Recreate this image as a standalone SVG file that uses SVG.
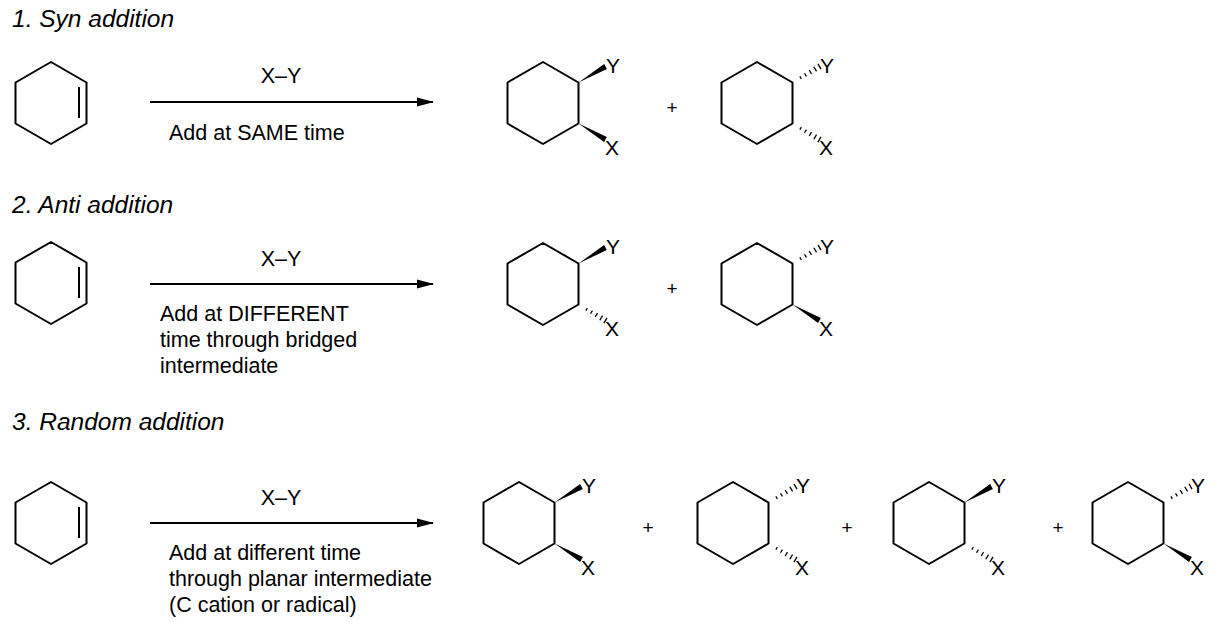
<svg xmlns="http://www.w3.org/2000/svg" xmlns:xlink="http://www.w3.org/1999/xlink" width="1225" height="622" viewBox="0 0 1225 622">
<style>
text{font-family:"Liberation Sans",Arial,sans-serif;fill:#000}
.t{font-size:24.5px;font-style:italic}
.c{font-size:21.5px}
.l{font-size:21px}
.p{font-size:19px}
.b{fill:none;stroke:#000;stroke-width:2;stroke-linejoin:round}
.h{stroke:#000;stroke-width:1.3}
.ar{stroke:#000;stroke-width:2;fill:none}
</style>
<defs>
<marker id="ah" markerWidth="18" markerHeight="10" refX="16" refY="5" orient="auto" markerUnits="userSpaceOnUse"><path d="M0,0.5 L17,5 L0,9.5 Z" fill="#000"/></marker>
<path id="hex" class="b" d="M0,-41 L35.5,-20.5 L35.5,20.5 L0,41 L-35.5,20.5 L-35.5,-20.5 Z"/>
<g id="sm"><use xlink:href="#hex"/><line class="b" x1="28" y1="-16" x2="28" y2="15"/></g>
<polygon id="wu" points="0,0 28.4,-13.6 25.6,-18.4" fill="#000"/>
<g id="hu" class="h"><line x1="7.36" y1="-6.06" x2="8.84" y2="-3.54"/><line x1="12.01" y1="-9.28" x2="13.91" y2="-6.08"/><line x1="16.67" y1="-12.5" x2="18.97" y2="-8.62"/><line x1="21.33" y1="-15.72" x2="24.03" y2="-11.16"/><line x1="25.47" y1="-18.58" x2="28.53" y2="-13.42"/></g>
</defs>

<text class="t" x="12" y="27">1. Syn addition</text>
<text class="t" x="12" y="213">2. Anti addition</text>
<text class="t" x="12" y="430">3. Random addition</text>

<g id="connectors">
<line class="ar" x1="150" y1="102" x2="433" y2="102" marker-end="url(#ah)"/>
<line class="ar" x1="150" y1="284" x2="433" y2="284" marker-end="url(#ah)"/>
<line class="ar" x1="150" y1="523" x2="433" y2="523" marker-end="url(#ah)"/>
</g>

<g id="labels">
<text class="c" x="281" y="83" text-anchor="middle">X–Y</text>
<text class="c" x="169" y="140">Add at SAME time</text>
<text class="c" x="281" y="266" text-anchor="middle">X–Y</text>
<text class="c" x="160" y="321">Add at DIFFERENT</text>
<text class="c" x="160" y="347">time through bridged</text>
<text class="c" x="160" y="373">intermediate</text>
<text class="c" x="281" y="505" text-anchor="middle">X–Y</text>
<text class="c" x="169" y="560">Add at different time</text>
<text class="c" x="169" y="586">through planar intermediate</text>
<text class="c" x="169" y="612">(C cation or radical)</text>
</g>

<g id="sm1"><use xlink:href="#sm" transform="translate(51,103)"/></g>
<g id="sm2"><use xlink:href="#sm" transform="translate(51,283)"/></g>
<g id="sm3"><use xlink:href="#sm" transform="translate(51,523)"/></g>

<!-- row 1 -->
<g id="p11" transform="translate(543,103)"><use xlink:href="#hex"/><use xlink:href="#wu" transform="translate(35.5,-20.5)"/><use xlink:href="#wu" transform="translate(35.5,20.5) scale(1,-1)"/><text class="l" x="70" y="-30" text-anchor="middle">Y</text><text class="l" x="69" y="52" text-anchor="middle">X</text></g>
<text class="p" x="672" y="114" text-anchor="middle">+</text>
<g id="p12" transform="translate(757,103)"><use xlink:href="#hex"/><use xlink:href="#hu" transform="translate(35.5,-20.5)"/><use xlink:href="#hu" transform="translate(35.5,20.5) scale(1,-1)"/><text class="l" x="70" y="-30" text-anchor="middle">Y</text><text class="l" x="69" y="52" text-anchor="middle">X</text></g>

<!-- row 2 -->
<g id="p21" transform="translate(543,284)"><use xlink:href="#hex"/><use xlink:href="#wu" transform="translate(35.5,-20.5)"/><use xlink:href="#hu" transform="translate(35.5,20.5) scale(1,-1)"/><text class="l" x="70" y="-30" text-anchor="middle">Y</text><text class="l" x="69" y="52" text-anchor="middle">X</text></g>
<text class="p" x="672" y="295" text-anchor="middle">+</text>
<g id="p22" transform="translate(757,284)"><use xlink:href="#hex"/><use xlink:href="#hu" transform="translate(35.5,-20.5)"/><use xlink:href="#wu" transform="translate(35.5,20.5) scale(1,-1)"/><text class="l" x="70" y="-30" text-anchor="middle">Y</text><text class="l" x="69" y="52" text-anchor="middle">X</text></g>

<!-- row 3 -->
<g id="p31" transform="translate(519,523)"><use xlink:href="#hex"/><use xlink:href="#wu" transform="translate(35.5,-20.5)"/><use xlink:href="#wu" transform="translate(35.5,20.5) scale(1,-1)"/><text class="l" x="70" y="-30" text-anchor="middle">Y</text><text class="l" x="69" y="52" text-anchor="middle">X</text></g>
<text class="p" x="648" y="534" text-anchor="middle">+</text>
<g id="p32" transform="translate(733,523)"><use xlink:href="#hex"/><use xlink:href="#hu" transform="translate(35.5,-20.5)"/><use xlink:href="#hu" transform="translate(35.5,20.5) scale(1,-1)"/><text class="l" x="70" y="-30" text-anchor="middle">Y</text><text class="l" x="69" y="52" text-anchor="middle">X</text></g>
<text class="p" x="847" y="534" text-anchor="middle">+</text>
<g id="p33" transform="translate(929,523)"><use xlink:href="#hex"/><use xlink:href="#wu" transform="translate(35.5,-20.5)"/><use xlink:href="#hu" transform="translate(35.5,20.5) scale(1,-1)"/><text class="l" x="70" y="-30" text-anchor="middle">Y</text><text class="l" x="69" y="52" text-anchor="middle">X</text></g>
<text class="p" x="1058" y="534" text-anchor="middle">+</text>
<g id="p34" transform="translate(1128,523)"><use xlink:href="#hex"/><use xlink:href="#hu" transform="translate(35.5,-20.5)"/><use xlink:href="#wu" transform="translate(35.5,20.5) scale(1,-1)"/><text class="l" x="70" y="-30" text-anchor="middle">Y</text><text class="l" x="69" y="52" text-anchor="middle">X</text></g>
</svg>
